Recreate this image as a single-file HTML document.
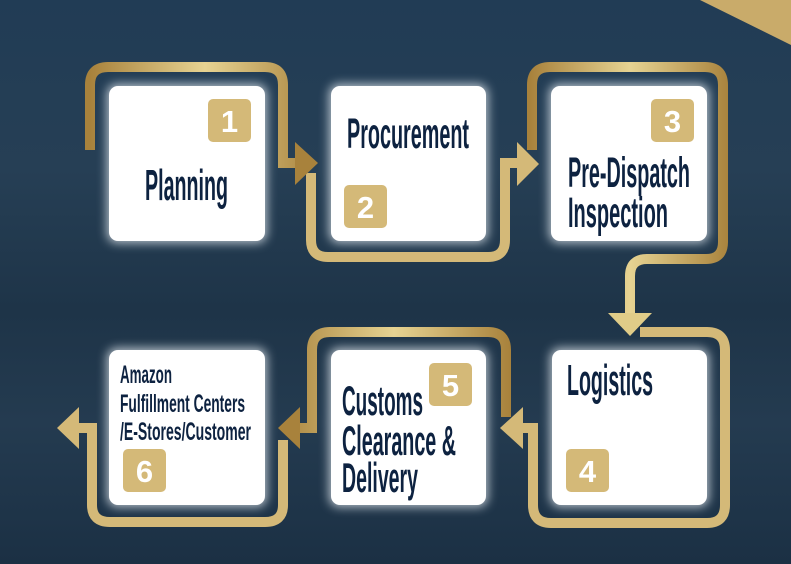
<!DOCTYPE html>
<html><head><meta charset="utf-8"><style>
html,body{margin:0;padding:0;width:791px;height:564px;overflow:hidden;background:#1f374d}
</style></head><body>
<svg width="791" height="564" viewBox="0 0 791 564" xmlns="http://www.w3.org/2000/svg" font-family="Liberation Sans, sans-serif">
<defs>
<linearGradient id="bg" x1="0" y1="0" x2="0" y2="1">
<stop offset="0" stop-color="#213c55"/><stop offset="0.3" stop-color="#263f55"/><stop offset="0.55" stop-color="#1e3448"/><stop offset="0.75" stop-color="#243b50"/><stop offset="1" stop-color="#1b3044"/>
</linearGradient>
<linearGradient id="g1" gradientUnits="userSpaceOnUse" x1="90" y1="0" x2="320" y2="0">
<stop offset="0" stop-color="#a8823c"/><stop offset="0.5" stop-color="#e6d392"/><stop offset="1" stop-color="#a8823c"/></linearGradient>
<linearGradient id="g3" gradientUnits="userSpaceOnUse" x1="530" y1="0" x2="730" y2="0">
<stop offset="0" stop-color="#a8823c"/><stop offset="0.5" stop-color="#e6d392"/><stop offset="1" stop-color="#a8823c"/></linearGradient>
<linearGradient id="g5" gradientUnits="userSpaceOnUse" x1="278" y1="0" x2="510" y2="0">
<stop offset="0" stop-color="#a8823c"/><stop offset="0.5" stop-color="#e6d392"/><stop offset="1" stop-color="#a8823c"/></linearGradient>
<filter id="glow" x="-20%" y="-20%" width="140%" height="140%"><feGaussianBlur stdDeviation="5"/></filter>
</defs>
<rect width="791" height="564" fill="url(#bg)"/>
<polygon points="700,0 791,0 791,45" fill="#c9ab6a"/>

<!-- connectors -->
<g fill="none" stroke-width="10" stroke-linejoin="miter">
<path d="M90,150 V85 Q90,67 108,67 H265 Q283,67 283,85 V163 H297" stroke="url(#g1)"/>
<path d="M311,173 V240 Q311,257 328,257 H488 Q505,257 505,240 V163 H519" stroke="#d4b978"/>
<path d="M532,150 V85 Q532,67 550,67 H705 Q723,67 723,85 V242 Q723,259 706,259 H647 Q630,259 630,276 V314" stroke="url(#g3)"/>
<path d="M640,332 H707 Q725,332 725,350 V505 Q725,523 707,523 H551 Q533,523 533,505 V428 H521" stroke="#d4b978"/>
<path d="M506,417 V350 Q506,332 488,332 H330 Q312,332 312,350 V428 H299" stroke="url(#g5)"/>
<path d="M283,440 V505 Q283,522 265,522 H110 Q92,522 92,505 V428 H78" stroke="#d4b978"/>
</g>
<polygon points="295,142 318,163 295,185" fill="#a8823c"/>
<polygon points="517,142 539,164 517,186" fill="#d4b978"/>
<polygon points="608,313 630,336 652,313" fill="#e0cc88"/>
<polygon points="523,407 500,428 523,449" fill="#d4b978"/>
<polygon points="300,407 278,428 300,449" fill="#a8823c"/>
<polygon points="79,407 57,428 79,449" fill="#d4b978"/>

<!-- boxes -->
<g fill="#dfe6ec" filter="url(#glow)" opacity="0.8">
<rect x="107" y="84" width="160" height="159" rx="10"/>
<rect x="329" y="84" width="159" height="159" rx="10"/>
<rect x="549" y="84" width="160" height="159" rx="10"/>
<rect x="550" y="348" width="159" height="159" rx="10"/>
<rect x="329" y="348" width="159" height="159" rx="10"/>
<rect x="107" y="348" width="160" height="159" rx="10"/>
</g>
<g fill="#ffffff">
<rect x="109" y="86" width="156" height="155" rx="9"/>
<rect x="331" y="86" width="155" height="155" rx="9"/>
<rect x="551" y="86" width="156" height="155" rx="9"/>
<rect x="552" y="350" width="155" height="155" rx="9"/>
<rect x="331" y="350" width="155" height="155" rx="9"/>
<rect x="109" y="350" width="156" height="155" rx="9"/>
</g>

<!-- badges -->
<g fill="#d4b978">
<rect x="208" y="99" width="43" height="43" rx="5"/>
<rect x="344" y="185" width="43" height="43" rx="5"/>
<rect x="651" y="99" width="43" height="43" rx="5"/>
<rect x="566" y="449" width="43" height="43" rx="5"/>
<rect x="429" y="363" width="43" height="43" rx="5"/>
<rect x="123" y="449" width="43" height="43" rx="5"/>
</g>
<g fill="#ffffff" font-weight="bold" font-size="31" text-anchor="middle">
<text x="229.5" y="132">1</text>
<text x="365.5" y="218">2</text>
<text x="672.5" y="132">3</text>
<text x="587.5" y="482">4</text>
<text x="450.5" y="396">5</text>
<text x="144.5" y="482">6</text>
</g>

<!-- labels -->
<g fill="#0d2240" font-weight="bold" lengthAdjust="spacingAndGlyphs">
<text x="145" y="200" font-size="44" textLength="83" lengthAdjust="spacingAndGlyphs">Planning</text>
<text x="347" y="148" font-size="43" textLength="122" lengthAdjust="spacingAndGlyphs">Procurement</text>
<text x="568" y="187" font-size="43" textLength="122" lengthAdjust="spacingAndGlyphs">Pre-Dispatch</text>
<text x="568" y="227" font-size="43" textLength="100" lengthAdjust="spacingAndGlyphs">Inspection</text>
<text x="567" y="395" font-size="44" textLength="86" lengthAdjust="spacingAndGlyphs">Logistics</text>
<text x="342" y="415" font-size="42" textLength="81" lengthAdjust="spacingAndGlyphs">Customs</text>
<text x="342" y="455" font-size="42" textLength="114" lengthAdjust="spacingAndGlyphs">Clearance &amp;</text>
<text x="342" y="492" font-size="42" textLength="76" lengthAdjust="spacingAndGlyphs">Delivery</text>
<text x="120" y="383" font-size="25" textLength="52" lengthAdjust="spacingAndGlyphs">Amazon</text>
<text x="120" y="412" font-size="25" textLength="125" lengthAdjust="spacingAndGlyphs">Fulfillment Centers</text>
<text x="120" y="440" font-size="25" textLength="131" lengthAdjust="spacingAndGlyphs">/E-Stores/Customer</text>
</g>
</svg>
</body></html>
